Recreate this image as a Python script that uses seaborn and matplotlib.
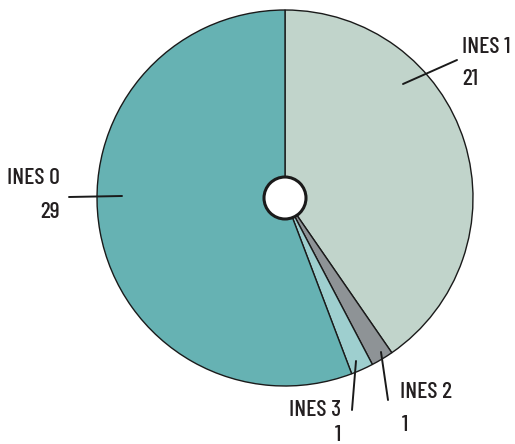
import matplotlib
matplotlib.use("Agg")
import matplotlib.pyplot as plt
import seaborn as sns

# INES level counts, drawn clockwise from the top
levels = ["INES 1", "INES 2", "INES 3", "INES 0"]
counts = [21, 1, 1, 29]
colors = ["#c1d4cb", "#8e9396", "#9ecfcf", "#66b2b3"]

sns.set_theme(style="white")
plt.rcParams["font.family"] = ["Barlow Condensed", "DejaVu Sans"]

W, H = 515, 444
fig = plt.figure(figsize=(W / 100, H / 100), dpi=100)
ax = fig.add_axes([0, 0, 1, 1])

# pixel geometry of the pie
cx, cy, R = 285, 198, 188

ax.pie(counts, colors=colors, startangle=90, counterclock=False,
       radius=1, center=(0, 0),
       wedgeprops=dict(edgecolor="#1a1a1a", linewidth=1.0))
ax.set_xlim(-cx / R, (W - cx) / R)
ax.set_ylim(-(H - cy) / R, cy / R)
ax.set_aspect("auto")
ax.axis("off")

# hub
hub = plt.Circle((0, 0), 21 / R, facecolor="white", edgecolor="#1a1a1a",
                 linewidth=2.2, zorder=5)
ax.add_patch(hub)


def px(x, y):
    return (x - cx) / R, (cy - y) / R


# leader lines (pixel endpoints)
leaders = {
    "INES 1": ((403, 84), (457, 60)),
    "INES 0": ((69, 197), (122, 196)),
    "INES 2": ((381, 352), (388, 400)),
    "INES 3": ((356, 361), (352, 410)),
}
for name, (p0, p1) in leaders.items():
    x0, y0 = px(*p0)
    x1, y1 = px(*p1)
    ax.plot([x0, x1], [y0, y1], color="#1a1a1a", linewidth=1.4, zorder=6)

fs = 17
txt = dict(fontsize=fs, color="#231f20", fontweight="medium")
by_name = dict(zip(levels, counts))

# (name line anchor, value line anchor, alignment)
anchors = {
    "INES 1": ((462, 47), (462, 79), "left"),
    "INES 0": ((60, 178), (60, 212), "right"),
    "INES 2": ((400, 392), (402, 425), "left"),
    "INES 3": ((341, 410), (341, 435), "right"),
}
for name, (a_name, a_val, ha) in anchors.items():
    x, y = px(*a_name)
    ax.text(x, y, name, ha=ha, va="center", **txt)
    x, y = px(*a_val)
    ax.text(x, y, str(by_name[name]), ha=ha, va="center", **txt)

fig.savefig("out.png", dpi=100, facecolor="white")
